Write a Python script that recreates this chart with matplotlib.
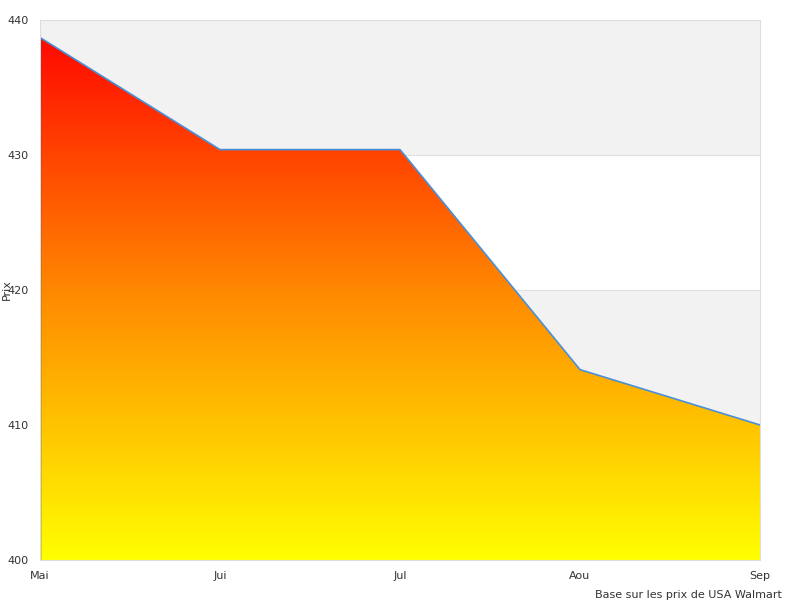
import numpy as np
import matplotlib
matplotlib.use('Agg')
from matplotlib import pyplot as plt
from matplotlib.colors import LinearSegmentedColormap

months = ['Mai', 'Jui', 'Jul', 'Aou', 'Sep']
prices = [438.7, 430.4, 430.4, 414.1, 410.0]
yticks = [400, 410, 420, 430, 440]

fig = plt.figure(figsize=(8, 6), dpi=100)
ax = fig.add_axes([0.05, 0.0667, 0.9, 0.9])
x = np.arange(len(months))

# alternating bands
for lo, c in [(400, 'white'), (410, '#f2f2f2'), (420, 'white'), (430, '#f2f2f2')]:
    ax.axhspan(lo, lo + 10, color=c, zorder=0)
for y in yticks[1:-1]:
    ax.axhline(y, color='#e0e0e0', lw=0.8, zorder=0.5)

# gradient fill under the line
cmap = LinearSegmentedColormap.from_list('ry', ['#ffff00', '#ff8800', '#ff0000'])
grad = np.linspace(0, 1, 256).reshape(-1, 1)
im = ax.imshow(grad, cmap=cmap, aspect='auto', origin='lower',
               extent=[x[0], x[-1], 400, 440], zorder=1)
poly = ax.fill_between(x, prices, 400, color='none')
path = poly.get_paths()[0]
im.set_clip_path(path, transform=ax.transData)

ax.plot(x, prices, color='#4a90d9', lw=1.2, zorder=2)
ax.plot([0, 0], [400, prices[0]], color='#333333', lw=1, zorder=2)

ax.set_xlim(x[0], x[-1])
ax.set_ylim(400, 440)
ax.set_xticks(x)
ax.set_xticklabels(months)
ax.set_yticks(yticks)
ax.tick_params(axis='x', length=0, labelsize=8, colors='#333333', pad=8)
ax.tick_params(axis='y', length=0, labelsize=8, colors='#333333', pad=8)
for s in ax.spines.values():
    s.set_color('#dddddd')
ax.set_ylabel('Prix', fontsize=8, color='#333333')
ax.yaxis.set_label_coords(-0.039, 0.5)
ax.set_xlabel('Base sur les prix de USA Walmart', fontsize=8, color='#333333')
ax.xaxis.set_label_coords(0.9, -0.055)

fig.savefig('out.png')
